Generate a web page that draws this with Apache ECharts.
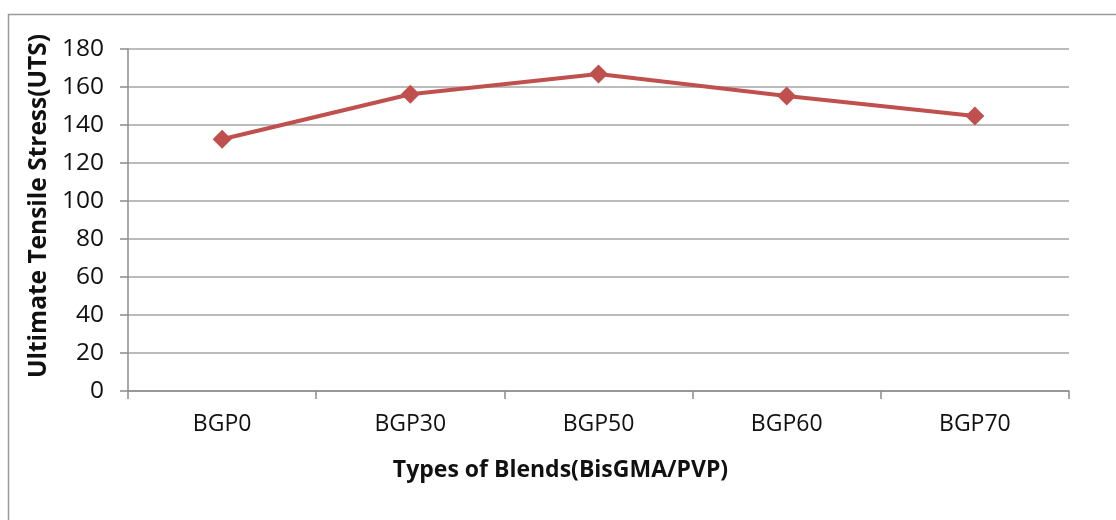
<!DOCTYPE html>
<html>
<head>
<meta charset="utf-8">
<script src="https://cdn.jsdelivr.net/npm/echarts@6/dist/echarts.min.js"></script>
<style>
  html, body { margin: 0; padding: 0; background: #fff; }
  #chart { width: 1116px; height: 520px; }
</style>
</head>
<body>
<div id="chart"></div>
<script>
// Blend types along the x axis
const categories = ['BGP0', 'BGP30', 'BGP50', 'BGP60', 'BGP70'];
// Ultimate tensile stress for each blend
const utsValues = [132.5, 156.2, 166.8, 155.3, 144.7];
// Value axis range
const yMin = 0;
const yMax = 180;
const yStep = 20;

const textFont = '"Open Sans", "Noto Sans", sans-serif';
const chart = echarts.init(document.getElementById('chart'), null, { renderer: 'canvas' });

chart.setOption({
  animation: false,
  backgroundColor: '#ffffff',
  graphic: [{
    type: 'rect',
    shape: { x: 8.5, y: 14.5, width: 1200, height: 600 },
    style: { fill: 'none', stroke: '#9a9a9a', lineWidth: 1.5 },
    silent: true
  }],
  grid: { left: 128, right: 47, top: 49, bottom: 129 },
  xAxis: {
    type: 'category',
    data: categories,
    boundaryGap: true,
    name: 'Types of Blends(BisGMA/PVP)',
    nameLocation: 'middle',
    nameGap: 68,
    nameTextStyle: { fontFamily: textFont, fontWeight: 'bold', fontSize: 23, color: '#111', padding: [0, 76, 0, 0] },
    axisLine: { lineStyle: { color: '#8c8c8c', width: 1.5 } },
    axisTick: { show: true, length: 8, alignWithLabel: false, lineStyle: { color: '#8c8c8c', width: 1.5 } },
    axisLabel: { fontFamily: textFont, fontSize: 23, color: '#111', margin: 22 },
    splitLine: { show: false }
  },
  yAxis: {
    type: 'value',
    min: yMin,
    max: yMax,
    interval: yStep,
    name: 'Ultimate Tensile Stress(UTS)',
    nameLocation: 'middle',
    nameGap: 76,
    nameRotate: 90,
    nameTextStyle: { fontFamily: textFont, fontWeight: 'bold', fontSize: 24.5, color: '#111', padding: [0, 0, 0, 28] },
    axisLine: { show: true, lineStyle: { color: '#8c8c8c', width: 1.5 } },
    axisTick: { show: true, length: 8, lineStyle: { color: '#8c8c8c', width: 1.5 } },
    axisLabel: { fontFamily: textFont, fontSize: 24.5, color: '#111', margin: 24 },
    splitLine: { show: true, lineStyle: { color: '#a6a6a6', width: 1.5 } }
  },
  series: [{
    type: 'line',
    data: utsValues,
    symbol: 'diamond',
    symbolSize: 19,
    lineStyle: { color: '#C0504D', width: 4 },
    itemStyle: { color: '#C0504D' },
    z: 5
  }]
});
</script>
</body>
</html>
